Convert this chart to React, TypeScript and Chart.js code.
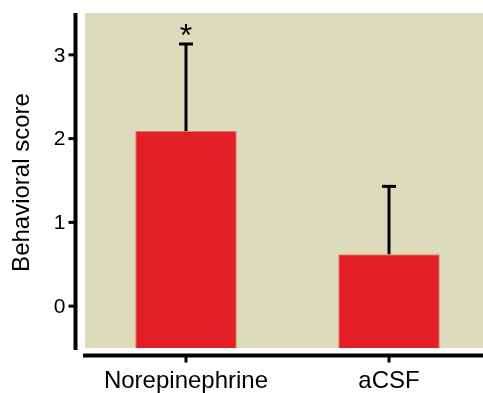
import React, { useEffect, useRef } from "react";
import { Chart, registerables } from "chart.js";

Chart.register(...registerables);

const categories = ["Norepinephrine", "aCSF"];
const meanValues = [2.09, 0.62];
const errorTops = [3.13, 1.43];
const significance = ["*", ""];
const yTicks = [0, 1, 2, 3];
const yTitle = "Behavioral score";

const FONT = "'Liberation Sans', Arial, sans-serif";

const bgPlugin = {
  id: "bgPlugin",
  beforeDraw(chart: any) {
    const { ctx, chartArea } = chart;
    ctx.save();
    ctx.fillStyle = "#dcdcbd";
    ctx.fillRect(chartArea.left, chartArea.top, chartArea.right - chartArea.left, chartArea.bottom - chartArea.top);
    ctx.restore();
  },
};

const decorPlugin = {
  id: "decorPlugin",
  afterDatasetsDraw(chart: any) {
    const { ctx, chartArea } = chart;
    const xs = chart.scales.x;
    const ys = chart.scales.y;
    ctx.save();
    ctx.strokeStyle = "#000";
    ctx.fillStyle = "#000";
    // error bars
    meanValues.forEach((v, i) => {
      const x = xs.getPixelForValue(i);
      const y0 = ys.getPixelForValue(v);
      const y1 = ys.getPixelForValue(errorTops[i]);
      ctx.lineWidth = 3;
      ctx.beginPath();
      ctx.moveTo(x, y0);
      ctx.lineTo(x, y1);
      ctx.stroke();
      ctx.beginPath();
      ctx.moveTo(x - 7, y1);
      ctx.lineTo(x + 7, y1);
      ctx.stroke();
      if (significance[i]) {
        ctx.font = `32px ${FONT}`;
        ctx.textAlign = "center";
        ctx.textBaseline = "middle";
        ctx.fillText(significance[i], x, y1 - 7);
      }
    });
    // y axis line
    const yAxisX = chartArea.left - 9.5;
    ctx.lineWidth = 4;
    ctx.beginPath();
    ctx.moveTo(yAxisX, chartArea.top);
    ctx.lineTo(yAxisX, chartArea.bottom + 2);
    ctx.stroke();
    ctx.lineWidth = 3;
    ctx.font = `21px ${FONT}`;
    ctx.textAlign = "right";
    ctx.textBaseline = "middle";
    yTicks.forEach((t) => {
      const y = ys.getPixelForValue(t);
      ctx.beginPath();
      ctx.moveTo(yAxisX - 7, y);
      ctx.lineTo(yAxisX, y);
      ctx.stroke();
      ctx.fillText(String(t), yAxisX - 10, y + 1);
    });
    // y title
    ctx.save();
    ctx.translate(22.5, (chartArea.top + chartArea.bottom) / 2 + 2);
    ctx.rotate(-Math.PI / 2);
    ctx.font = `24px ${FONT}`;
    ctx.textAlign = "center";
    ctx.textBaseline = "middle";
    ctx.fillText(yTitle, 0, 0);
    ctx.restore();
    // x axis line
    const xAxisY = chartArea.bottom + 7.5;
    ctx.lineWidth = 4;
    ctx.beginPath();
    ctx.moveTo(chartArea.left - 2, xAxisY);
    ctx.lineTo(chartArea.right, xAxisY);
    ctx.stroke();
    ctx.lineWidth = 3;
    ctx.font = `24px ${FONT}`;
    ctx.textAlign = "center";
    ctx.textBaseline = "alphabetic";
    categories.forEach((c, i) => {
      const x = xs.getPixelForValue(i);
      ctx.beginPath();
      ctx.moveTo(x, xAxisY);
      ctx.lineTo(x, xAxisY + 7);
      ctx.stroke();
      ctx.fillText(c, x, 388);
    });
    ctx.restore();
  },
};

export default function App() {
  const ref = useRef<HTMLCanvasElement>(null);
  useEffect(() => {
    document.body.style.margin = "0";
    const chart = new Chart(ref.current as HTMLCanvasElement, {
      type: "bar",
      data: {
        datasets: [
          {
            data: meanValues.map((v, i) => ({ x: i, y: v })),
            base: -0.5,
            backgroundColor: "#e21f26",
            borderColor: "#ee7a5a",
            borderWidth: 1,
            barPercentage: 0.5,
            categoryPercentage: 1,
          } as any,
        ],
      },
      options: {
        animation: false,
        responsive: false,
        layout: { padding: { top: 13, right: 0, left: 0, bottom: 0 } },
        plugins: { legend: { display: false }, tooltip: { enabled: false } },
        scales: {
          x: {
            type: "linear",
            offset: false,
            min: -0.4975,
            max: 1.463,
            grid: { display: false, drawTicks: false },
            border: { display: false },
            ticks: { display: false },
            afterBuildTicks: (s: any) => {
              s.ticks = categories.map((_, i) => ({ value: i }));
            },
            afterFit: (s: any) => {
              s.height = 45;
            },
          },
          y: {
            min: -0.5,
            max: 3.5,
            grid: { display: false, drawTicks: false },
            border: { display: false },
            ticks: { display: false },
            afterFit: (s: any) => {
              s.width = 85;
            },
          },
        },
      },
      plugins: [bgPlugin, decorPlugin],
    });
    return () => chart.destroy();
  }, []);
  return (
    <div style={{ width: 483, height: 393 }}>
      <canvas ref={ref} width={483} height={393} style={{ display: "block" }} />
    </div>
  );
}
